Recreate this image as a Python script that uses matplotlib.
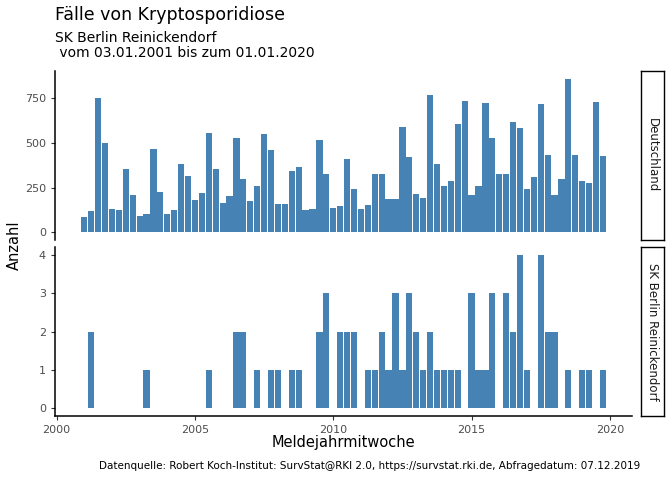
import matplotlib
matplotlib.use("Agg")
import matplotlib.pyplot as plt
import numpy as np

years = 2001 + 0.25 * np.arange(76)
de_vals = [84,117,754,502,128,123,352,207,89,100,469,223,100,123,380,318,179,218,558,352,
           162,201,530,296,173,257,553,463,156,156,341,363,123,128,519,324,134,145,408,240,
           128,151,329,324,184,184,592,419,212,190,770,385,262,285,608,737,207,257,726,530,
           324,324,620,586,240,307,720,435,207,301,860,435,290,274,731,430]
be_idx = [1,9,18,22,23,25,27,28,30,31,34,35,37,38,39,41,42,43,44,45,46,47,48,49,50,51,52,53,54,
          56,57,58,59,61,62,63,64,66,67,68,70,72,73,75]
be_v = [2,1,1,2,2,1,1,1,1,1,2,3,2,2,2,1,1,2,1,3,1,3,2,1,2,1,1,1,1,
        3,1,1,3,3,2,4,1,4,2,2,1,1,1,1]
be_vals = np.zeros(76)
for i, v in zip(be_idx, be_v):
    be_vals[i] = v

color = "#4682B4"
fig = plt.figure(figsize=(6.72, 4.8), dpi=100)
W, H = 672, 480
def rect(x0, y0, x1, y1):
    return [x0/W, 1-y1/H, (x1-x0)/W, (y1-y0)/H]

ax1 = fig.add_axes(rect(55, 71, 632, 240))
ax2 = fig.add_axes(rect(55, 247, 632, 416))
for ax, vals, ylim, yt in [(ax1, de_vals, (-43, 903), [0,250,500,750]),
                            (ax2, be_vals, (-0.2, 4.2), [0,1,2,3,4])]:
    ax.bar(years, vals, width=0.225, color=color)
    ax.set_xlim(1999.94, 2020.8)
    ax.set_ylim(*ylim)
    ax.set_yticks(yt)
    for s in ["top", "right"]:
        ax.spines[s].set_visible(False)
    ax.spines["left"].set_linewidth(1.1)
    ax.tick_params(axis="both", colors="#333333", labelsize=8, length=3, width=0.8, color="#333333")
    ax.tick_params(axis="both", labelcolor="#4d4d4d")
ax1.spines["bottom"].set_visible(False)
ax1.set_xticks([])
ax2.set_xticks([2000, 2005, 2010, 2015, 2020])
ax2.spines["bottom"].set_linewidth(1.1)

for (y0, y1, lab) in [(71, 240, "Deutschland"), (247, 416, "SK Berlin Reinickendorf")]:
    sa = fig.add_axes(rect(641, y0, 664, y1))
    sa.set_xticks([]); sa.set_yticks([])
    for s in sa.spines.values():
        s.set_linewidth(1.0)
    sa.text(0.5, 0.5, lab, rotation=270, ha="center", va="center", fontsize=8.5,
            color="#1a1a1a", transform=sa.transAxes)

fig.text(55/W, 1-15/H, "Fälle von Kryptosporidiose", fontsize=12.5, va="center", ha="left")
fig.text(55/W, 1-38/H, "SK Berlin Reinickendorf", fontsize=10, va="center", ha="left")
fig.text(55/W, 1-53/H, " vom 03.01.2001 bis zum 01.01.2020", fontsize=10, va="center", ha="left")
fig.text(14/W, 1-245/H, "Anzahl", rotation=90, fontsize=10.5, va="center", ha="center")
fig.text(343/W, 1-442/H, "Meldejahrmitwoche", fontsize=10.5, va="center", ha="center")
fig.text(640/W, 1-466/H, "Datenquelle: Robert Koch-Institut: SurvStat@RKI 2.0, https://survstat.rki.de, Abfragedatum: 07.12.2019",
         fontsize=7.5, va="center", ha="right")
fig.savefig("out.png", dpi=100)
